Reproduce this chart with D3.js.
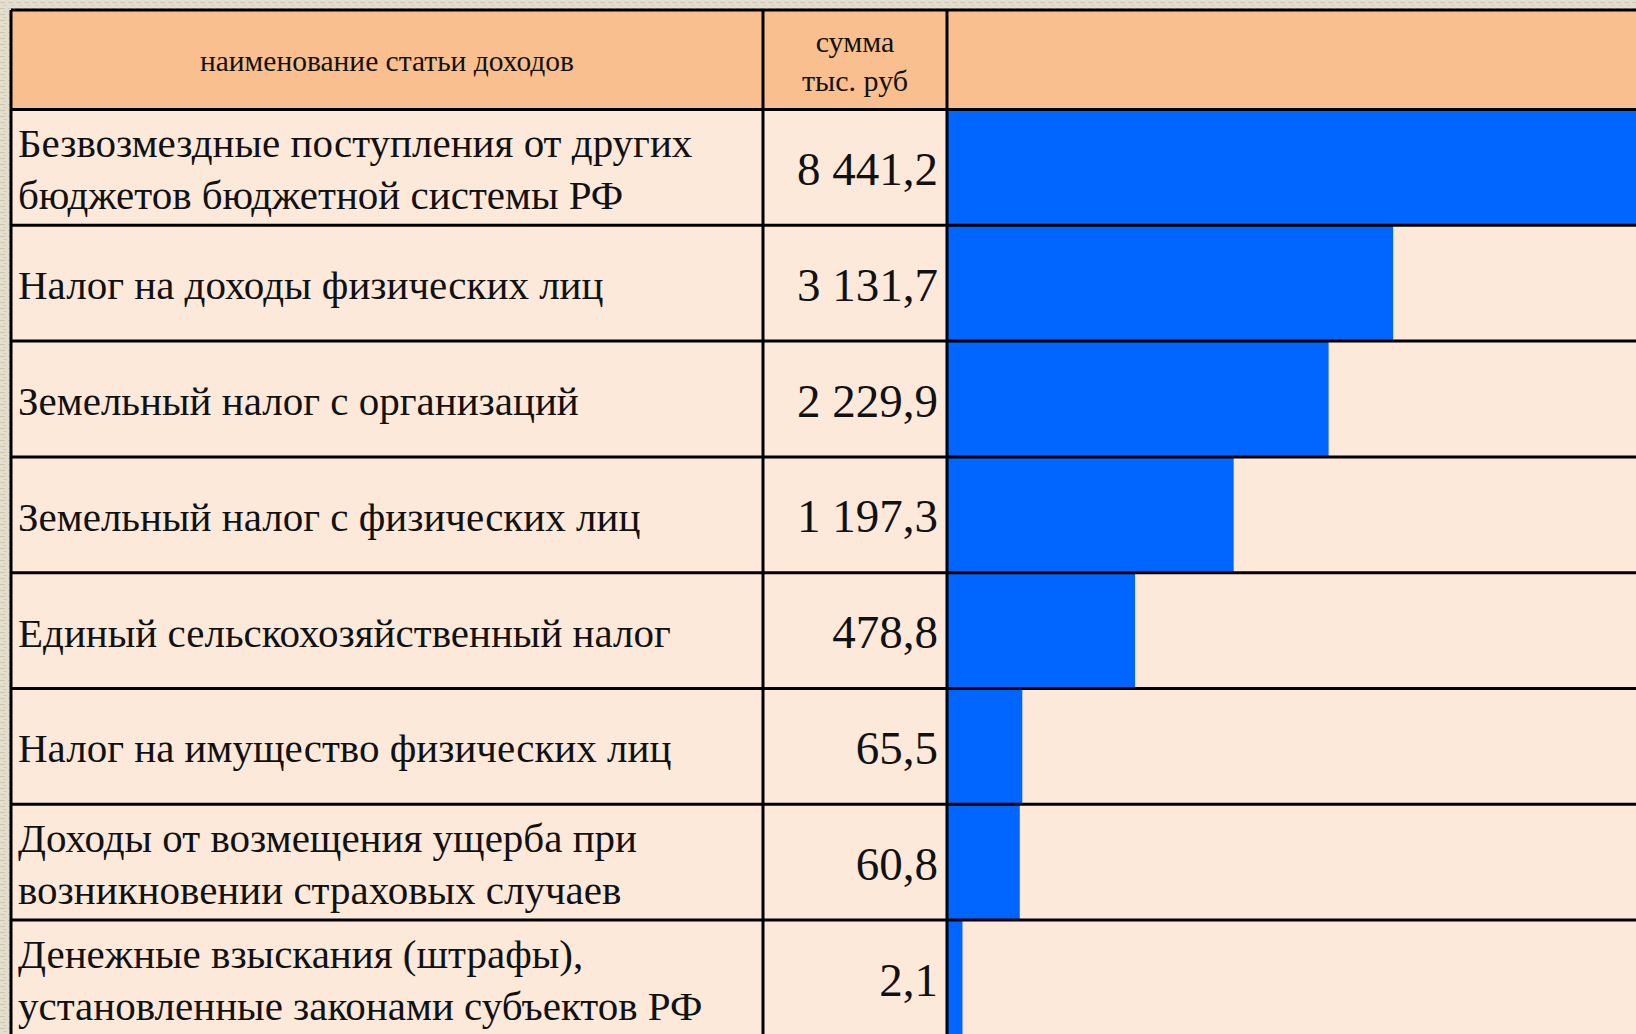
<!DOCTYPE html>
<html><head><meta charset="utf-8">
<script src="https://cdn.jsdelivr.net/npm/d3@7"></script>
<style>
html,body{margin:0;padding:0;background:#e3dccb;overflow:hidden}
svg{display:block}
</style></head>
<body>
<svg id="c" width="1636" height="1034"></svg>
<script>
const categories = [
  "Безвозмездные поступления от других\nбюджетов бюджетной системы РФ",
  "Налог на доходы физических лиц",
  "Земельный налог с организаций",
  "Земельный налог с физических лиц",
  "Единый сельскохозяйственный налог",
  "Налог на имущество физических лиц",
  "Доходы от возмещения ущерба при\nвозникновении страховых случаев",
  "Денежные взыскания (штрафы),\nустановленные законами субъектов РФ"
];
const values = [8441.2, 3131.7, 2229.9, 1197.3, 478.8, 65.5, 60.8, 2.1];
const valueLabels = ["8 441,2", "3 131,7", "2 229,9", "1 197,3", "478,8", "65,5", "60,8", "2,1"];
const headerName = ["наименование статьи доходов"];
const headerSum = ["сумма", "тыс. руб"];

(function(){
const W = 1636, H = 1034;
const svg = d3.select("#c");

const defs = svg.append("defs");
const pat = defs.append("pattern").attr("id","tex").attr("width",8).attr("height",6).attr("patternUnits","userSpaceOnUse");
pat.append("rect").attr("width",8).attr("height",6).attr("fill","#e4dece");
pat.append("rect").attr("x",0).attr("y",2).attr("width",5).attr("height",1).attr("fill","#cfc6b2");
pat.append("rect").attr("x",3).attr("y",5).attr("width",4).attr("height",1).attr("fill","#d6cebb");
svg.append("rect").attr("width",W).attr("height",H).attr("fill","url(#tex)");

const x0 = 11, x1 = 763, x2 = 947, x3 = W + 10;
const tableTop = 10, headBottom = 109.5, rowH = 115.8;

const y = d3.scaleBand().domain(d3.range(categories.length))
  .range([headBottom, headBottom + rowH * categories.length]).padding(0);

const xBar = d3.scalePow().exponent(0.46).domain([0, 1]).range([0, 11]);

svg.append("rect").attr("x",x0).attr("y",tableTop).attr("width",x3-x0).attr("height",headBottom-tableTop).attr("fill","#f9bf8f");
svg.append("g").selectAll("rect").data(categories).join("rect")
  .attr("x",x0).attr("y",(d,i)=>y(i)).attr("width",x3-x0).attr("height",y.bandwidth()).attr("fill","#fce9da");

svg.append("g").selectAll("rect").data(values).join("rect")
  .attr("x",x2).attr("y",(d,i)=>y(i)).attr("width",d=>xBar(d)).attr("height",y.bandwidth())
  .attr("fill","#0066ff");

const grid = svg.append("g").attr("stroke","#000").attr("stroke-width",3);
grid.append("line").attr("x1",x0).attr("x2",x3).attr("y1",tableTop).attr("y2",tableTop);
grid.append("line").attr("x1",x0).attr("x2",x3).attr("y1",headBottom).attr("y2",headBottom);
grid.selectAll(".h").data(d3.range(1,categories.length)).join("line").attr("class","h")
  .attr("x1",x0).attr("x2",x3).attr("y1",i=>y(i)).attr("y2",i=>y(i));
[x0,x1,x2].forEach(xx=>{
  grid.append("line").attr("x1",xx).attr("x2",xx).attr("y1",tableTop).attr("y2",H+10);
});

const font = "'Liberation Serif','Times New Roman',serif";

svg.append("text").attr("x",(x0+x1)/2).attr("y",70.5).attr("text-anchor","middle")
  .attr("font-family",font).attr("font-size",29.5).attr("fill","#111").text(headerName[0]);
svg.append("g").selectAll("text").data(headerSum).join("text")
  .attr("x",(x1+x2)/2).attr("y",(d,i)=>52+i*39).attr("text-anchor","middle")
  .attr("font-family",font).attr("font-size",30).attr("fill","#111").text(d=>d);

const lab = svg.append("g").attr("font-family",font).attr("font-size",41).attr("fill","#111");
categories.forEach((c,i)=>{
  const lines = c.split("\n");
  const cy = y(i) + y.bandwidth()/2;
  const lh = 52;
  const first = cy + 16 - (lines.length-1)*lh/2;
  lines.forEach((ln,j)=>{
    lab.append("text").attr("x",18).attr("y",first + j*lh).text(ln);
  });
});

svg.append("g").selectAll("text").data(valueLabels).join("text")
  .attr("x",938).attr("y",(d,i)=>y(i)+y.bandwidth()/2+17.5).attr("text-anchor","end")
  .attr("font-family",font).attr("font-size",47).attr("fill","#111").text(d=>d);
})();
</script>
</body></html>
